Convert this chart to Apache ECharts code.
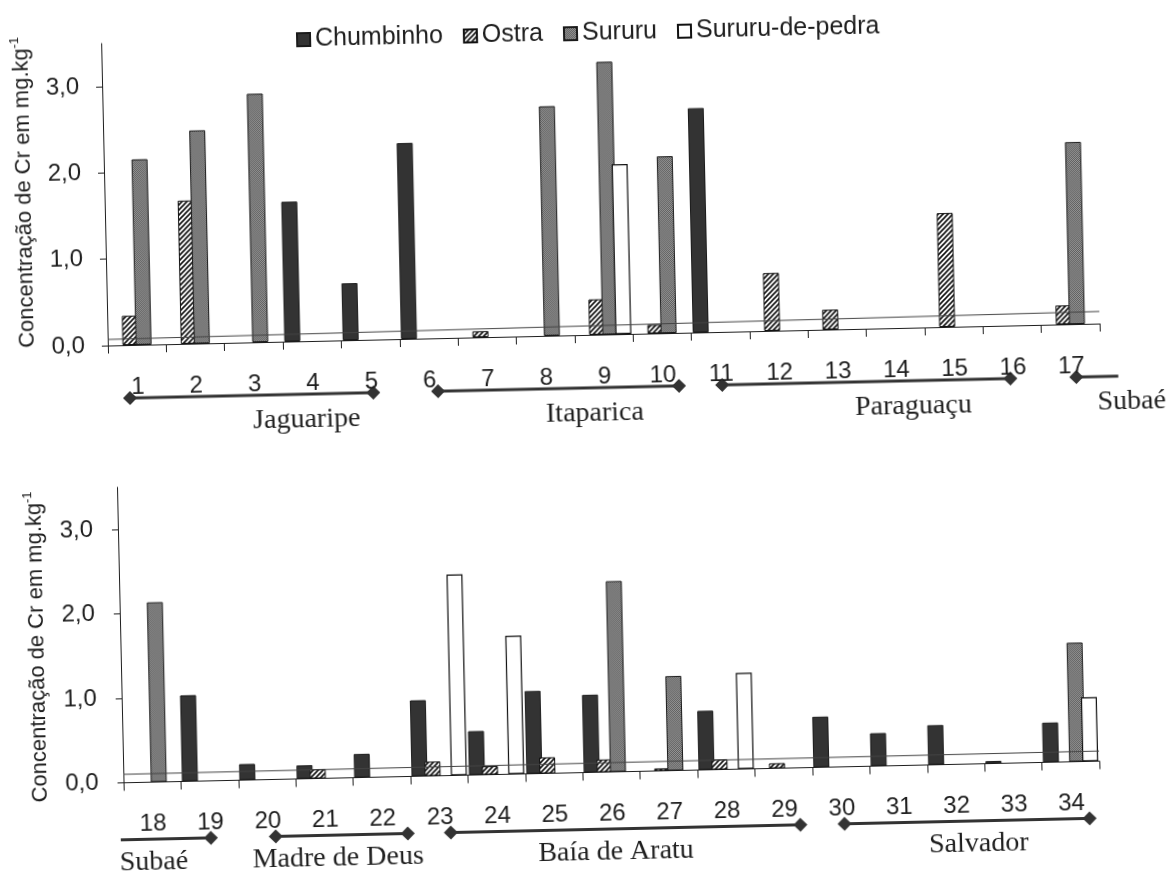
<!DOCTYPE html>
<html>
<head>
<meta charset="utf-8">
<script src="https://cdn.jsdelivr.net/npm/echarts@6/dist/echarts.min.js"></script>
<style>
html,body{margin:0;padding:0;background:#fff;overflow:hidden;}
#main{width:1168px;height:875px;transform:rotate(-1.27deg);transform-origin:584px 437.5px;}
</style>
</head>
<body>
<div id="main"></div>
<script>
// ---------- data ----------
const seriesNames = ['Chumbinho', 'Ostra', 'Sururu', 'Sururu-de-pedra'];

const categoriesTop = ['1','2','3','4','5','6','7','8','9','10','11','12','13','14','15','16','17'];
const chumbinhoTop = [null, null, null, 1.62, 0.66, 2.27, null, null, null, null, 2.60, null, null, null, null, null, null];
const ostraTop     = [0.34, 1.66, null, null, null, null, 0.07, null, 0.41, 0.10, null, 0.67, 0.23, null, 1.32, null, 0.22];
const sururuTop    = [2.15, 2.47, 2.88, null, null, null, null, 2.66, 3.16, 2.05, null, null, null, null, null, null, 2.11];
const pedraTop     = [null, null, null, null, null, null, null, null, 1.97, null, null, null, null, null, null, null, null];

const categoriesBottom = ['18','19','20','21','22','23','24','25','26','27','28','29','30','31','32','33','34'];
const chumbinhoBottom = [null, 1.02, 0.19, 0.16, 0.28, 0.90, 0.52, 0.98, 0.92, null, 0.70, null, 0.60, 0.39, 0.47, 0.03, 0.47];
const ostraBottom     = [null, null, null, 0.11, null, 0.17, 0.10, 0.19, 0.15, 0.03, 0.12, 0.06, null, null, null, null, null];
const sururuBottom    = [2.13, null, null, null, null, null, null, null, 2.26, 1.12, null, null, null, null, null, null, 1.41];
const pedraBottom     = [null, null, null, null, null, 2.38, 1.64, null, null, null, 1.14, null, null, null, null, null, 0.76];

// thin reference line (value at left end, value at right end)
const refLineTop = [0.07, 0.14];
const refLineBottom = [0.10, 0.12];

const yAxisTicks = [0, 1, 2, 3];
const yAxisMax = 3.5;
const yAxisTitle = 'Concentração de Cr em mg.kg';

// location groups, positions in category units (0 = left edge of first category)
const groupNamesTop = ['Jaguaripe', 'Itaparica', 'Paraguaçu', 'Subaé'];
const groupFromTop  = [0.36, 5.64, 10.51, 16.58];
const groupToTop    = [4.53, 9.77, 15.45, 17.30];
const groupLabelTop = [3.38, 8.32, 13.78, 17.52];
const groupDiamondLTop = [true, true, true, true];
const groupDiamondRTop = [true, true, true, false];

const groupNamesBottom = ['Subaé', 'Madre de Deus', 'Baía de Aratu', 'Salvador'];
const groupFromBottom  = [-0.07, 2.63, 5.68, 12.54];
const groupToBottom    = [1.50, 4.93, 11.77, 16.81];
const groupLabelBottom = [0.50, 3.71, 8.55, 14.87];
const groupDiamondLBottom = [false, true, true, true];
const groupDiamondRBottom = [true, true, true, true];

// ---------- styles ----------
const SANS = '"Liberation Sans", Arial, sans-serif';
const SERIF = '"Liberation Serif", "Times New Roman", serif';
const INK = '#1e1e1e';

function hatchCanvas() {
  const c = document.createElement('canvas');
  c.width = 5; c.height = 5;
  const g = c.getContext('2d');
  g.fillStyle = '#fff'; g.fillRect(0, 0, 5, 5);
  g.strokeStyle = '#111'; g.lineWidth = 1.6;
  g.beginPath();
  g.moveTo(-1, 6); g.lineTo(6, -1);
  g.moveTo(-1, 1); g.lineTo(1, -1);
  g.moveTo(4, 6); g.lineTo(6, 4);
  g.stroke();
  return c;
}
function grainCanvas() {
  const c = document.createElement('canvas');
  c.width = 2; c.height = 2;
  const g = c.getContext('2d');
  g.fillStyle = '#989898'; g.fillRect(0, 0, 2, 2);
  g.fillStyle = '#5c5c5c'; g.fillRect(0, 0, 1, 1); g.fillRect(1, 1, 1, 1);
  return c;
}
const styles = [
  { color: '#333333', borderColor: '#1a1a1a', borderWidth: 1 },
  { color: { image: hatchCanvas(), repeat: 'repeat' }, borderColor: '#111', borderWidth: 1 },
  { color: { image: grainCanvas(), repeat: 'repeat' }, borderColor: '#1a1a1a', borderWidth: 1 },
  { color: '#ffffff', borderColor: '#111', borderWidth: 1.2 }
];

const chart = echarts.init(document.getElementById('main'), null, { renderer: 'canvas' });

function fmt(v) { return v.toFixed(1).replace('.', ','); }

function xAxisCfg(gridIndex, cats) {
  return {
    type: 'category', gridIndex: gridIndex, data: cats,
    axisLine: { show: true, lineStyle: { color: INK, width: 1 } },
    axisTick: { show: true, length: 8, lineStyle: { color: INK } },
    axisLabel: { interval: 0, margin: 30, fontSize: 24, fontFamily: SANS, color: INK },
    splitLine: { show: false }
  };
}
function hiddenX(gridIndex) {
  return { type: 'value', gridIndex: gridIndex, min: 0, max: 17, show: false };
}
function yAxisCfg(gridIndex, gap, labelMargin, pad) {
  return {
    type: 'value', gridIndex: gridIndex, min: 0, max: yAxisMax, interval: 1,
    axisLine: { show: true, lineStyle: { color: INK, width: 1 } },
    axisTick: { show: true, length: 6, lineStyle: { color: INK } },
    axisLabel: {
      margin: labelMargin, fontSize: 24, fontFamily: SANS, color: INK, showMaxLabel: false,
      formatter: function (v) { return yAxisTicks.indexOf(v) >= 0 ? fmt(v) : ''; }
    },
    splitLine: { show: false },
    name: yAxisTitle + '{sup|-1}',
    nameLocation: 'middle', nameRotate: 90, nameGap: gap,
    nameTextStyle: {
      fontSize: 22, fontFamily: SANS, color: INK, lineHeight: 26, padding: pad,
      rich: { sup: { fontSize: 13, fontFamily: SANS, color: INK, verticalAlign: 'top', lineHeight: 14 } }
    }
  };
}

const panels = [
  [chumbinhoTop, ostraTop, sururuTop, pedraTop],
  [chumbinhoBottom, ostraBottom, sururuBottom, pedraBottom]
];
const series = [];
panels.forEach(function (sets, p) {
  sets.forEach(function (d, i) {
    series.push({
      type: 'bar', name: seriesNames[i], data: d,
      xAxisIndex: p, yAxisIndex: p,
      barWidth: 16, barGap: '-18%',
      itemStyle: styles[i], silent: true
    });
  });
});
series.push({
  type: 'line', name: 'refTop', xAxisIndex: 2, yAxisIndex: 0,
  data: [[0, refLineTop[0]], [17, refLineTop[1]]], symbol: 'none', silent: true, z: 5,
  lineStyle: { color: '#444', width: 1 }
});
series.push({
  type: 'line', name: 'refBottom', xAxisIndex: 3, yAxisIndex: 1,
  data: [[0, refLineBottom[0]], [17, refLineBottom[1]]], symbol: 'none', silent: true, z: 5,
  lineStyle: { color: '#444', width: 1 }
});

chart.setOption({
  animation: false,
  backgroundColor: '#fff',
  legend: {
    data: seriesNames, left: 305, top: 21, padding: 0,
    icon: 'rect', itemWidth: 13, itemHeight: 13, itemGap: 20,
    textStyle: { fontSize: 25, fontFamily: SANS, color: INK }
  },
  grid: [
    { left: 110, top: 33, width: 992, height: 302 },
    { left: 116, top: 477, width: 976, height: 295.5 }
  ],
  xAxis: [xAxisCfg(0, categoriesTop), xAxisCfg(1, categoriesBottom), hiddenX(0), hiddenX(1)],
  yAxis: [yAxisCfg(0, 63, 23, [0, 0, 0, 8]), yAxisCfg(1, 70, 25, [0, 20, 0, 0])],
  series: series
});

// ---------- location groups (positions from the category axes) ----------
function buildGroups(axisIndex, names, from, to, labelAt, dl, dr, lineOffset, labelOffset) {
  const c0 = chart.convertToPixel({ xAxisIndex: axisIndex }, 0);
  const c1 = chart.convertToPixel({ xAxisIndex: axisIndex }, 1);
  const w = c1 - c0;
  const base = chart.convertToPixel({ yAxisIndex: axisIndex }, 0);
  const px = function (f) { return c0 + (f - 0.5) * w; };
  const out = [];
  const ly = base + lineOffset;
  names.forEach(function (n, i) {
    const x1 = px(from[i]), x2 = px(to[i]);
    out.push({ type: 'line', shape: { x1: x1, y1: ly, x2: x2, y2: ly },
      style: { stroke: '#333', lineWidth: 3 }, silent: true });
    [[dl[i], x1], [dr[i], x2]].forEach(function (d) {
      if (!d[0]) return;
      out.push({ type: 'polygon', shape: { points: [[d[1], ly - 7], [d[1] + 7, ly], [d[1], ly + 7], [d[1] - 7, ly]] },
        style: { fill: '#333' }, silent: true });
    });
    out.push({ type: 'text', x: px(labelAt[i]), y: base + labelOffset, silent: true,
      style: { text: n, font: '28px ' + SERIF, fill: INK, align: 'center', verticalAlign: 'middle' } });
  });
  return out;
}
const graphics = buildGroups(0, groupNamesTop, groupFromTop, groupToTop, groupLabelTop, groupDiamondLTop, groupDiamondRTop, 53, 79)
  .concat(buildGroups(1, groupNamesBottom, groupFromBottom, groupToBottom, groupLabelBottom, groupDiamondLBottom, groupDiamondRBottom, 57, 80));
chart.setOption({ graphic: graphics });
</script>
</body>
</html>
